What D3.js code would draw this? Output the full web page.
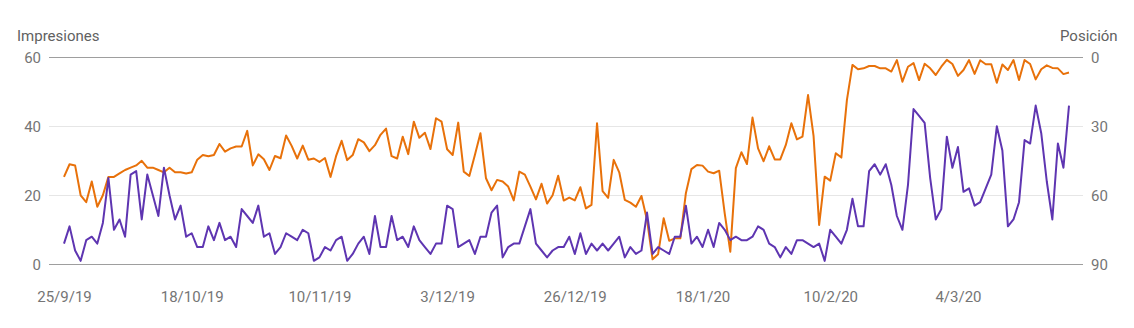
<!DOCTYPE html>
<html>
<head>
<meta charset="utf-8">
<script src="https://cdn.jsdelivr.net/npm/d3@7"></script>
<style>
  body { margin: 0; background: #fff; }
  svg { display: block; font-family: Roboto, sans-serif; }
</style>
</head>
<body>
<svg id="chart"></svg>
<script>
// daily impressions (left axis) and average position (right axis, inverted)
const firstDay = "2019-09-25";
const lastDay = "2020-03-24";

const tickLabels = ["25/9/19", "18/10/19", "10/11/19", "3/12/19", "26/12/19", "18/1/20", "10/2/20", "4/3/20"];
const impressionTicks = [0, 20, 40, 60];
const positionTicks = [0, 30, 60, 90];

const impressions = [
  6, 11, 4, 1, 7, 8, 6, 12, 25, 10, 13, 8, 26, 27, 13, 26, 20, 14, 28, 20,
  13, 17, 8, 9, 5, 5, 11, 7, 12, 7, 8, 5, 16, 14, 12, 17, 8, 9, 3, 5,
  9, 8, 7, 10, 9, 1, 2, 5, 4, 7, 8, 1, 3, 6, 8, 3, 14, 5, 5, 14,
  7, 8, 5, 11, 7, 5, 3, 6, 6, 17, 16, 5, 6, 7, 3, 8, 8, 15, 17, 2,
  5, 6, 6, 11, 16, 6, 4, 2, 4, 5, 5, 8, 3, 9, 3, 6, 4, 6, 4, 6,
  8, 2, 5, 3, 4, 15, 3, 5, 4, 3, 8, 8, 17, 6, 8, 5, 10, 5, 12, 10,
  7, 8, 7, 7, 8, 11, 10, 6, 5, 2, 5, 3, 7, 7, 6, 5, 6, 1, 10, 8,
  6, 10, 19, 11, 11, 27, 29, 26, 29, 23, 14, 10, 23, 45, 43, 41, 25, 13, 16, 37,
  28, 34, 21, 22, 17, 18, 22, 26, 40, 33, 11, 13, 18, 36, 35, 46, 38, 24, 13, 35,
  28, 46
];

const position = [
  52, 46.5, 47, 60, 63, 54, 65, 60, 52, 52, 50.5, 49, 48, 47, 45, 48, 48, 49, 50, 48,
  50, 50, 50.5, 50, 44.5, 42.5, 43, 42.5, 37.7, 41, 39.6, 38.8, 38.8, 32, 47, 42.2, 44.3, 49, 42.9, 43.9,
  34, 38.5, 44, 38.4, 44.5, 44, 45.5, 43.8, 52, 43, 36.3, 44.7, 42.5, 35.6, 37, 40.8, 38.2, 33.7, 31, 43,
  44, 34.5, 42.1, 28, 35, 32.8, 39.9, 26.5, 28, 40, 42.5, 28.4, 49.7, 51.6, 42.5, 33, 52.6, 57.8, 53.3, 54,
  56.2, 62.2, 49.7, 51, 56.2, 61.8, 55, 63.6, 60, 51.5, 62.3, 61, 62.2, 56.5, 65.7, 64.2, 28.7, 58.2, 61.1, 44.6,
  50, 62, 63.2, 65, 60.3, 70.7, 87.8, 85.6, 70, 79.8, 78.7, 78.7, 59.1, 48.6, 46.8, 47.1, 49.7, 50.4, 49.3, 68,
  84.5, 48.2, 41.3, 46.4, 26.2, 39.6, 45.2, 38.7, 44.4, 44.4, 38.1, 28.7, 35.7, 34.5, 16.4, 34.3, 72.9, 51.9, 53.6, 41.7,
  43.6, 18.6, 3.3, 5.2, 4.8, 3.8, 3.8, 4.8, 4.8, 6.2, 1.2, 10.6, 4.1, 2.5, 9.9, 2.8, 4.8, 7.7, 4.1, 1.1,
  2.9, 8.1, 5.5, 1.2, 7.2, 1.3, 3, 3, 11.1, 3.1, 5.5, 1.2, 9.9, 1.2, 2.9, 9.6, 5.2, 3.5, 4.6, 4.8,
  7.3, 6.6
];

(function chart() {
  const width = 1134,
    height = 328,
    plot = { left: 49, right: 1083, top: 57.3, bottom: 264.3 };

  const days = d3.utcDay.range(
    d3.utcParse("%Y-%m-%d")(firstDay),
    d3.utcDay.offset(d3.utcParse("%Y-%m-%d")(lastDay), 1)
  );
  const data = days.map((date, i) => ({
    date,
    impressions: impressions[i],
    position: position[i]
  }));

  const parseTick = d3.utcParse("%d/%m/%y");
  const formatTick = d3.utcFormat("%-d/%-m/%y");

  const xScale = d3.scaleUtc(d3.extent(days), [64, 1069]);
  const yImp = d3.scaleLinear([0, 60], [plot.bottom, plot.top]);
  const yPos = d3.scaleLinear([0, 90], [plot.top, plot.bottom]);

  const svg = d3.select("svg#chart").attr("width", width).attr("height", height);

  // gridlines: outer lines darker, inner ones faint
  svg
    .append("g")
    .selectAll("line")
    .data(impressionTicks)
    .join("line")
    .attr("x1", plot.left)
    .attr("x2", plot.right)
    .attr("y1", d => Math.round(yImp(d)) + 0.5)
    .attr("y2", d => Math.round(yImp(d)) + 0.5)
    .attr("stroke", d => (d === 0 || d === 60 ? "#9e9e9e" : "#e6e6e6"))
    .attr("stroke-width", 1);

  const styleAxis = g =>
    g.call(g => g.select(".domain").remove())
      .call(g =>
        g.selectAll("text")
          .attr("fill", "#757575")
          .style("font-size", "15px")
          .style("font-family", "Roboto, sans-serif")
      );

  svg
    .append("g")
    .attr("transform", `translate(${plot.left}, 0)`)
    .call(d3.axisLeft(yImp).tickValues(impressionTicks).tickSize(0).tickPadding(8))
    .call(styleAxis);

  svg
    .append("g")
    .attr("transform", `translate(${plot.right}, 0)`)
    .call(d3.axisRight(yPos).tickValues(positionTicks).tickSize(0).tickPadding(8))
    .call(styleAxis);

  svg
    .append("g")
    .attr("transform", `translate(0, ${plot.bottom})`)
    .call(
      d3.axisBottom(xScale)
        .tickValues(tickLabels.map(parseTick))
        .tickFormat(formatTick)
        .tickSize(0)
        .tickPadding(27)
    )
    .call(styleAxis);

  const lineImp = d3.line().x(d => xScale(d.date)).y(d => yImp(d.impressions));
  const linePos = d3.line().x(d => xScale(d.date)).y(d => yPos(d.position));

  svg
    .append("path")
    .datum(data)
    .attr("fill", "none")
    .attr("stroke", "#e8710a")
    .attr("stroke-width", 2)
    .attr("stroke-linejoin", "round")
    .attr("d", linePos);

  svg
    .append("path")
    .datum(data)
    .attr("fill", "none")
    .attr("stroke", "#5e35b1")
    .attr("stroke-width", 2)
    .attr("stroke-linejoin", "round")
    .attr("d", lineImp);

  svg
    .append("text")
    .attr("x", 17)
    .attr("y", 41)
    .attr("fill", "#616161")
    .style("font-size", "15px")
    .text("Impresiones");

  svg
    .append("text")
    .attr("x", 1060)
    .attr("y", 41)
    .attr("fill", "#616161")
    .style("font-size", "15px")
    .text("Posición");
})();
</script>
</body>
</html>
